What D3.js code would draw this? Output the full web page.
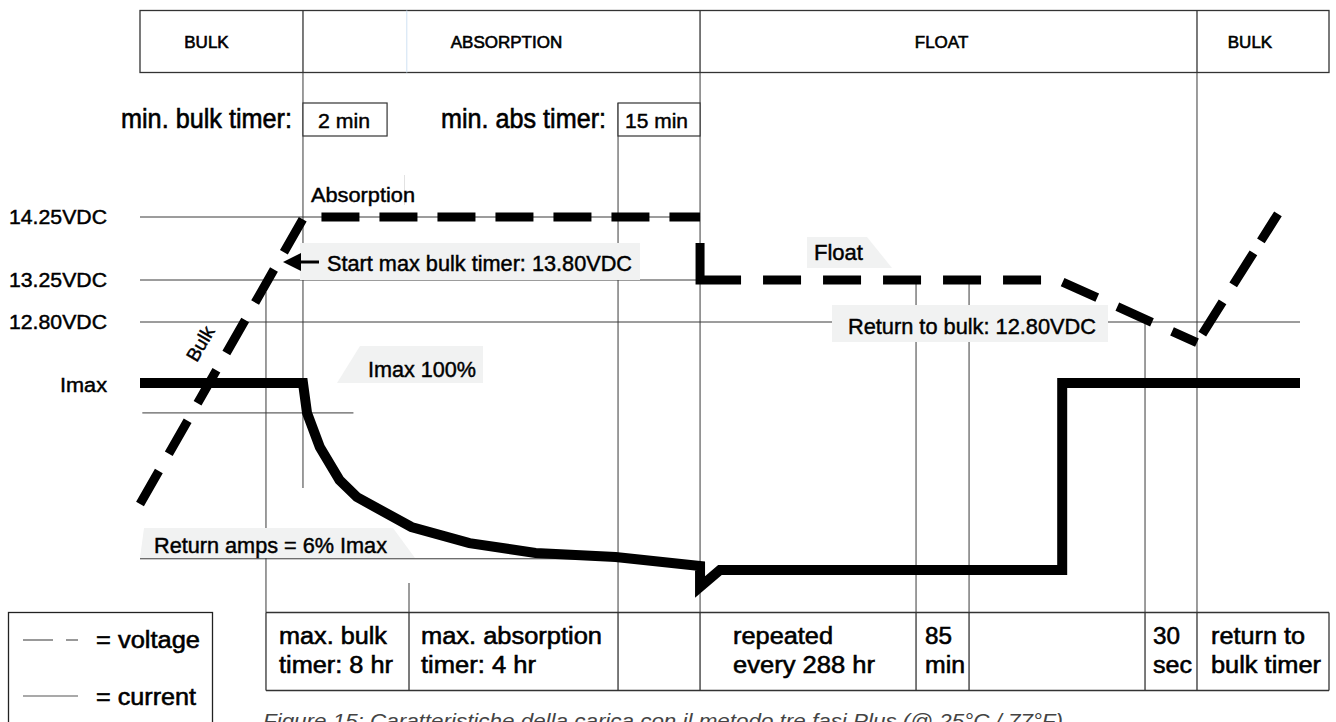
<!DOCTYPE html>
<html><head><meta charset="utf-8">
<script src="https://cdn.jsdelivr.net/npm/d3@7"></script>
<style>
html,body{margin:0;padding:0;background:#fff;}
svg{display:block;font-family:"Liberation Sans", Arial, sans-serif;}
</style></head><body>
<svg id="c" width="1336" height="722"></svg>
<script>
// ---------------- data ----------------
const phases = ["BULK", "ABSORPTION", "FLOAT", "BULK"];
const phaseBounds = [0, 14.05, 48.28, 91.12, 102.5];          // timeline units
const voltageTicks = [14.25, 13.25, 12.80];
const voltageTickLabels = ["14.25VDC", "13.25VDC", "12.80VDC"];
const voltageTickEnds = [48.28, 48.28, 100];
const currentTickLabel = "Imax";
const voltageT = [0, 14.14, 48.28, 48.28, 79.14, 91.12, 98.1];
const voltageV = [10.85, 14.25, 14.25, 13.25, 13.25, 12.58, 14.30];
const currentT = [0, 14.05, 14.4, 15.5, 17.2, 18.7, 23.4, 28.4, 34.1, 41.0, 48.28, 48.28, 50.0, 79.5, 79.5, 100];
const currentPct = [100, 100, 84, 65.8, 48.1, 39, 23, 14.4, 9.1, 7, 2.1, -9.1, 0, 0, 100, 100];
const returnAmpsPct = 6;
const minTimerNames = ["min. bulk timer:", "min. abs timer:"];
const minTimerValues = ["2 min", "15 min"];
const minTimerSpans = [[14.05, 21.3], [41.21, 48.28]];
const timerColumns = [10.86, 23.19, 41.21, 48.28, 66.9, 71.47, 86.64, 91.12, 102.5];
const timerLabels = [["max. bulk", "timer: 8 hr"], ["max. absorption", "timer: 4 hr"], [], ["repeated", "every 288 hr"], ["85", "min"], [], ["30", "sec"], ["return to", "bulk timer"]];
const annotations = ["Absorption", "Start max bulk timer: 13.80VDC", "Imax 100%", "Float", "Return to bulk: 12.80VDC", "Return amps = 6% Imax", "Bulk"];
const legendLabels = ["= voltage", "= current"];
const caption = "Figure 15: Caratteristiche della carica con il metodo tre fasi Plus (@ 25°C / 77°F)";

// ---------------- scales ----------------
const x = d3.scaleLinear().domain([0, 100]).range([140, 1300]);
const yV = d3.scaleLinear().domain([12.80, 13.25, 14.25]).range([322, 280, 217]);
const yI = d3.scaleLinear().domain([0, 100]).range([570, 383]);

const svg = d3.select("#c");
const LINE = "#3a3a3a";
const BOXFILL = "#f1f2f2";

function txt(g, px, py, s, o = {}) {
  const fill = o.fill || "#000";
  const t = g.append("text").attr("x", px).attr("y", py).text(s)
    .attr("font-size", o.size || 20).attr("fill", fill)
    .attr("stroke", fill).attr("stroke-width", o.sw == null ? 0.45 : o.sw);
  if (o.anchor) t.attr("text-anchor", o.anchor);
  if (o.len) t.attr("textLength", o.len).attr("lengthAdjust", "spacingAndGlyphs");
  if (o.italic) t.attr("font-style", "italic");
  return t;
}
function vline(px, y1, y2, c = LINE, w = 1) {
  svg.append("line").attr("x1", px).attr("x2", px).attr("y1", y1).attr("y2", y2)
    .attr("stroke", c).attr("stroke-width", w);
}
function hline(x1, x2, py, c = LINE, w = 1) {
  svg.append("line").attr("x1", x1).attr("x2", x2).attr("y1", py).attr("y2", py)
    .attr("stroke", c).attr("stroke-width", w);
}

// ---------------- header ----------------
const hTop = 10.5, hBot = 72.5;
svg.append("rect").attr("x", x(phaseBounds[0])).attr("y", hTop)
  .attr("width", x(phaseBounds[4]) - x(phaseBounds[0])).attr("height", hBot - hTop)
  .attr("fill", "none").attr("stroke", "#333").attr("stroke-width", 1.3);
vline(x(23.0), hTop, hBot, "#cfe2f3", 1);
const headerShift = [-15, 5, -7, -13];
phases.forEach((p, i) => {
  if (i > 0) vline(x(phaseBounds[i]), hTop, hBot, "#333", 1.3);
  const cx = (x(phaseBounds[i]) + x(phaseBounds[i + 1])) / 2 + headerShift[i];
  txt(svg, cx, 48, p, {size: 17, anchor: "middle", sw: 0.6});
});

// ---------------- guide lines ----------------
voltageTicks.forEach((v, i) => hline(x(0), x(voltageTickEnds[i]), yV(v)));
hline(x(0.2), x(18.4), yI(84));
hline(x(0), x(timerColumns[2]), yI(returnAmpsPct));

vline(x(phaseBounds[1]), hBot, 488);
vline(x(timerColumns[0]), 292, 612.5);
vline(x(timerColumns[2]), 103, 612.5);
vline(x(phaseBounds[2]), hBot, 612.5);
vline(x(timerColumns[1]), 583, 612.5);
vline(x(timerColumns[4]), yV(13.25) + 3, 612.5);
vline(x(timerColumns[5]), yV(13.25) + 3, 612.5);
vline(x(timerColumns[6]), yV(12.80), 612.5);
vline(x(phaseBounds[3]), hBot, 612.5);
vline(x(22.8), 175, 205, "#e2e2e2", 1);

// ---------------- min timers ----------------
minTimerSpans.forEach((s, i) => {
  svg.append("rect").attr("x", x(s[0])).attr("y", 103).attr("width", x(s[1]) - x(s[0])).attr("height", 33)
    .attr("fill", "#fff").attr("stroke", "#333").attr("stroke-width", 1.2);
});
txt(svg, 292, 128, minTimerNames[0], {size: 27, anchor: "end", len: 171, sw: 0.6});
txt(svg, 441, 128, minTimerNames[1], {size: 27, len: 165, sw: 0.6});
txt(svg, x(minTimerSpans[0][0]) + 15, 128, minTimerValues[0], {size: 20.5, len: 52});
txt(svg, x(minTimerSpans[1][0]) + 7, 128, minTimerValues[1], {size: 20.5, len: 63});

// ---------------- annotation boxes ----------------
const poly = pts => svg.append("polygon").attr("points", pts.map(p => p.join(",")).join(" ")).attr("fill", BOXFILL);
poly([[300, 243], [640, 243], [640, 280], [300, 280]]);
poly([[360, 346], [483, 346], [483, 383], [337, 383]]);
poly([[807, 237], [867, 237], [892, 268], [807, 268]]);
poly([[832, 305], [1108, 305], [1108, 342], [832, 342]]);
poly([[144, 528], [393, 528], [415, 558], [140, 558]]);

// arrow
svg.append("line").attr("x1", 319).attr("x2", 296).attr("y1", 262).attr("y2", 262).attr("stroke", "#000").attr("stroke-width", 3);
svg.append("polygon").attr("points", "283,262 301,253 301,271").attr("fill", "#000");

// ---------------- axis labels ----------------
voltageTicks.forEach((v, i) => txt(svg, 107, yV(v) + 7, voltageTickLabels[i], {size: 20, anchor: "end", len: 98}));
txt(svg, 107, yI(100) + 9, currentTickLabel, {size: 20, anchor: "end", len: 47});

// ---------------- series ----------------
const vPts = voltageT.map((t, i) => [t, voltageV[i]]);
const iPts = currentT.map((t, i) => [t, currentPct[i]]);

svg.append("path").datum(iPts)
  .attr("d", d3.line().x(d => x(d[0])).y(d => yI(d[1])))
  .attr("fill", "none").attr("stroke", "#000").attr("stroke-width", 10)
  .attr("stroke-linejoin", "miter").attr("stroke-miterlimit", 3);

const vLine = d3.line().x(d => x(d[0])).y(d => yV(d[1]));
function vPath(pts, dash) {
  svg.append("path").datum(pts).attr("d", vLine)
    .attr("fill", "none").attr("stroke", "#000").attr("stroke-width", 9)
    .attr("stroke-dasharray", dash);
}
// bulk + absorption
vPath(vPts.slice(0, 3), "38,20");
// drop to float, float, decay to return-to-bulk point
const dash2 = [0, 26, 78, 22];
for (let k = 0; k < 20; k++) dash2.push(38, 22);
vPath(vPts.slice(2, 6), dash2.join(","));
// new bulk rise
vPath(vPts.slice(5), "0,10,38,20,38,14,60");

// ---------------- annotation texts ----------------
txt(svg, 311, 202, annotations[0], {size: 21, len: 104});
txt(svg, 327, 271, annotations[1], {size: 21.5, len: 305});
txt(svg, 368, 377, annotations[2], {size: 22, len: 108});
txt(svg, 814, 260, annotations[3], {size: 22, len: 49});
txt(svg, 848, 334, annotations[4], {size: 22, len: 248});
txt(svg, 154, 553, annotations[5], {size: 21.5, len: 233});
txt(svg, 0, 0, annotations[6], {size: 19, anchor: "middle"})
  .attr("transform", "translate(206,347) rotate(-60)");

// ---------------- bottom timer table ----------------
const tTop = 612.5, tBot = 690.5;
hline(x(timerColumns[0]), x(timerColumns[8]), tTop, "#333", 1.3);
hline(x(timerColumns[0]), x(timerColumns[8]), tBot, "#333", 1.3);
timerColumns.forEach(c => vline(x(c), tTop, tBot, "#333", 1.3));
const pad = [13, 12, 0, 33, 9, 0, 8, 14];
const lens = [[108, 114], [181, 115], [], [100, 142], [27, 40], [], [27, 39], [94, 110]];
timerLabels.forEach((lines, i) => {
  lines.forEach((l, j) => txt(svg, x(timerColumns[i]) + pad[i], 644 + j * 29, l, {size: 23, len: lens[i][j], sw: 0.55}));
});

// ---------------- legend ----------------
svg.append("rect").attr("x", 8.5).attr("y", 612.5).attr("width", 204).attr("height", 130)
  .attr("fill", "none").attr("stroke", "#222").attr("stroke-width", 1.3);
hline(23, 53, 640, "#555", 1.2);
hline(66, 78, 640, "#555", 1.2);
hline(23, 78, 696, "#555", 1.2);
txt(svg, 96, 648, legendLabels[0], {size: 23, len: 104, sw: 0.55});
txt(svg, 96, 705, legendLabels[1], {size: 23, len: 100, sw: 0.55});

// ---------------- caption ----------------
txt(svg, 263, 728, caption, {size: 21, italic: true, fill: "#444", len: 800, sw: 0});
</script>
</body></html>
